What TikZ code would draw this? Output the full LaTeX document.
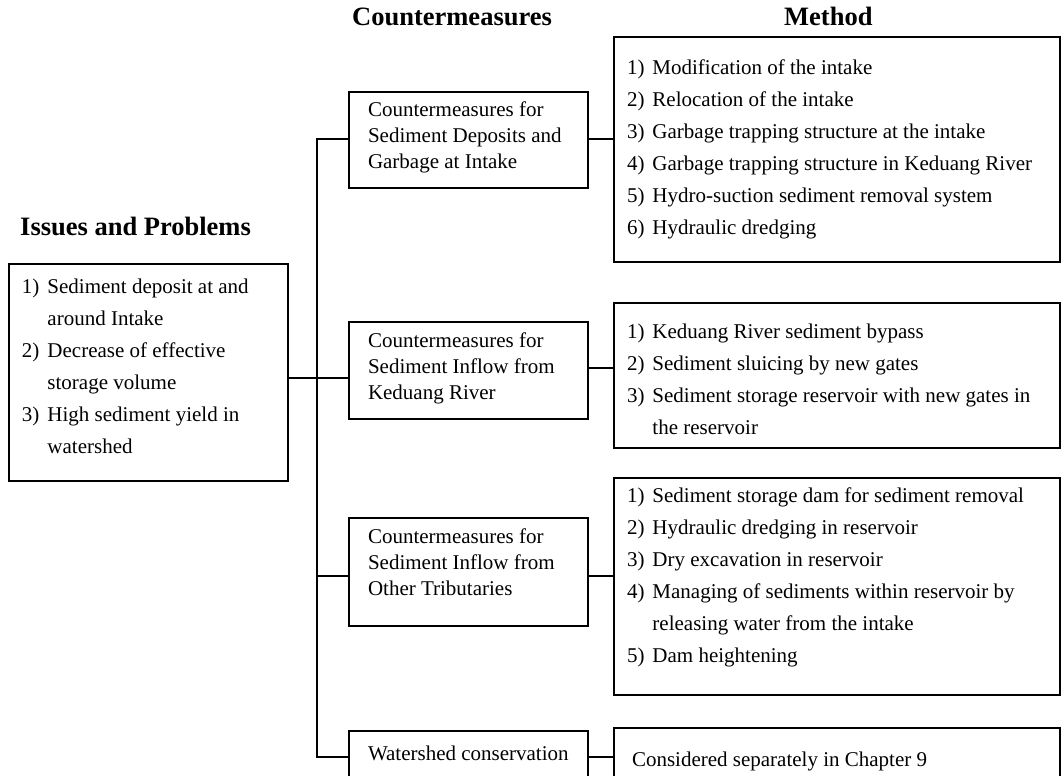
\documentclass[tikz,border=0pt]{standalone}
\usepackage{fontspec}
\setmainfont{Liberation Serif}
\newcommand{\bxt}[5]{\parbox[c][#2][t]{#1}{\vspace*{#3}\hspace*{#4}#5}}
\begin{document}
\begin{tikzpicture}[x=1pt,y=-1pt,
  frame/.style={draw, line width=1.8pt, inner sep=0pt, outer sep=0pt, anchor=north west},
  listfont/.style={font=\fontsize{21}{32}\selectfont},
  midfont/.style={font=\fontsize{21}{26}\selectfont},
  title/.style={font=\fontsize{26.5}{30}\selectfont\bfseries, inner sep=0pt, anchor=base west},
  link/.style={line width=1.8pt}]
\useasboundingbox (0,0) rectangle (1063,776);
\clip (0,0) rectangle (1063,776);

% titles
\node[title] (tiss) at (20,235) {Issues and Problems};
\node[title] (tcm) at (352,26) {Countermeasures};
\node[title] (tme) at (784,26) {Method};

% issues box
\node[frame, listfont] (iss) at (9,264) {\bxt{279pt}{217pt}{6.6pt}{13pt}{%
\begin{tabular}[t]{@{}l@{\hspace{8pt}}l@{}}
1) & Sediment deposit at and\\
   & around Intake\\
2) & Decrease of effective\\
   & storage volume\\
3) & High sediment yield in\\
   & watershed
\end{tabular}}};

% countermeasure boxes
\node[frame, midfont] (c1) at (349,92) {\bxt{239pt}{96pt}{5.8pt}{19pt}{%
\begin{tabular}[t]{@{}l@{}}
Countermeasures for\\
Sediment Deposits and\\
Garbage at Intake
\end{tabular}}};
\node[frame, midfont] (c2) at (349,322) {\bxt{239pt}{97pt}{6.8pt}{19pt}{%
\begin{tabular}[t]{@{}l@{}}
Countermeasures for\\
Sediment Inflow from\\
Keduang River
\end{tabular}}};
\node[frame, midfont] (c3) at (349,518) {\bxt{239pt}{108pt}{6.8pt}{19pt}{%
\begin{tabular}[t]{@{}l@{}}
Countermeasures for\\
Sediment Inflow from\\
Other Tributaries
\end{tabular}}};
\node[frame, midfont] (c4) at (349,731) {\bxt{239pt}{70pt}{10.8pt}{19pt}{%
\begin{tabular}[t]{@{}l@{}}
Watershed conservation
\end{tabular}}};

% method boxes
\node[frame, listfont] (m1) at (614,37) {\bxt{446pt}{225pt}{14.6pt}{13pt}{%
\begin{tabular}[t]{@{}l@{\hspace{8pt}}l@{}}
1) & Modification of the intake\\
2) & Relocation of the intake\\
3) & Garbage trapping structure at the intake\\
4) & Garbage trapping structure in Keduang River\\
5) & Hydro-suction sediment removal system\\
6) & Hydraulic dredging
\end{tabular}}};
\node[frame, listfont] (m2) at (614,303) {\bxt{446pt}{145pt}{12.6pt}{13pt}{%
\begin{tabular}[t]{@{}l@{\hspace{8pt}}l@{}}
1) & Keduang River sediment bypass\\
2) & Sediment sluicing by new gates\\
3) & Sediment storage reservoir with new gates in\\
   & the reservoir
\end{tabular}}};
\node[frame, listfont] (m3) at (614,478) {\bxt{446pt}{217pt}{1.6pt}{13pt}{%
\begin{tabular}[t]{@{}l@{\hspace{8pt}}l@{}}
1) & Sediment storage dam for sediment removal\\
2) & Hydraulic dredging in reservoir\\
3) & Dry excavation in reservoir\\
4) & Managing of sediments within reservoir by\\
   & releasing water from the intake\\
5) & Dam heightening
\end{tabular}}};
\node[frame, listfont] (m4) at (614,728) {\bxt{446pt}{73pt}{15.6pt}{18pt}{%
\begin{tabular}[t]{@{}l@{}}
Considered separately in Chapter 9
\end{tabular}}};

% trunk
\coordinate (ttop) at (317,139);
\coordinate (tiss) at (317,378);
\coordinate (tc2) at (600,368);
\coordinate (tc3) at (317,576);
\coordinate (tbot) at (317,757);
\draw[link] (c1.west |- ttop) -- (ttop) -- (tbot) -- (c4.west |- tbot);
\draw[link] (iss.east |- tiss) -- (tiss) -- (c2.west |- tiss);
\draw[link] (tc3) -- (c3.west |- tc3);

% right connectors
\draw[link] (c1.east |- ttop) -- (m1.west |- ttop);
\draw[link] (c2.east |- tc2) -- (m2.west |- tc2);
\draw[link] (c3.east |- tc3) -- (m3.west |- tc3);
\draw[link] (c4.east |- tbot) -- (m4.west |- tbot);
\end{tikzpicture}
\end{document}
